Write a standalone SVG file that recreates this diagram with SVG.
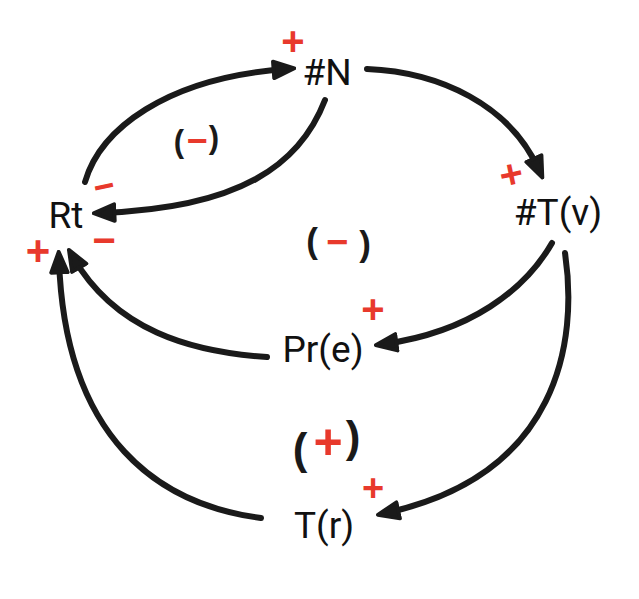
<svg xmlns="http://www.w3.org/2000/svg" width="639" height="599" viewBox="0 0 639 599">
<defs>
<style>
.node{font-family:Roboto,"Liberation Sans",sans-serif;font-size:37px;fill:#111;text-anchor:middle}
.edge{fill:none;stroke:#1a1a1a;stroke-width:6;stroke-linecap:round;marker-end:url(#arr)}
.sign{font-family:"Liberation Sans",Arial,sans-serif;font-weight:bold;fill:#e8392c;text-anchor:middle;dominant-baseline:central}
.par{font-family:"Liberation Sans",Arial,sans-serif;font-weight:bold;fill:#1a1a1a;text-anchor:middle;dominant-baseline:central}
</style>
<marker id="arr" viewBox="0 0 12 10" refX="7" refY="5" markerUnits="userSpaceOnUse" markerWidth="25" markerHeight="21" orient="auto">
<path d="M1,1 L11,5 L1,9 z" fill="#1a1a1a" stroke="#1a1a1a" stroke-width="1.8" stroke-linejoin="round"/>
</marker>
</defs>
<rect width="639" height="599" fill="#ffffff"/>
<g id="connectors">
<path class="edge" d="M85,182 C100,130 165,78 286,69"/>
<path class="edge" d="M325,100 C300,165 240,208 102,213"/>
<path class="edge" d="M367,69 C440,72 510,105 539,170"/>
<path class="edge" d="M552,243 C525,290 470,332 384,344"/>
<path class="edge" d="M565,253 C578,340 560,475 386,513"/>
<path class="edge" d="M267,357 C190,352 115,330 73,257"/>
<path class="edge" d="M261,518 C160,505 65,440 59,260"/>
</g>
<g id="node-N"><text class="node" x="327" y="85">#N</text></g>
<g id="node-Rt"><text class="node" x="66" y="228">Rt</text></g>
<g id="node-Tv"><text class="node" x="558" y="225">#T(v)</text></g>
<g id="node-Pre"><text class="node" x="323" y="362">Pr(e)</text></g>
<g id="node-Tr"><text class="node" x="324" y="538">T(r)</text></g>
<g id="signs">
<text class="sign" x="293" y="41" font-size="40">+</text>
<text class="sign" x="104" y="186" font-size="36" transform="rotate(-12 104 186)">−</text>
<text class="sign" x="104" y="240" font-size="40">−</text>
<text class="sign" x="38" y="250" font-size="42">+</text>
<text class="sign" x="511" y="174" font-size="40" transform="rotate(-12 511 174)">+</text>
<text class="sign" x="373" y="309" font-size="40">+</text>
<text class="sign" x="373" y="488" font-size="38">+</text>
</g>
<g id="loop-labels">
<text class="par" font-size="31"><tspan x="179" y="141">(</tspan><tspan class="sign" x="197" y="140" font-size="36">−</tspan><tspan x="214" y="137">)</tspan></text>
<text class="par" font-size="35"><tspan x="312" y="240">(</tspan><tspan class="sign" x="337" y="242" font-size="38">−</tspan><tspan x="365" y="243">)</tspan></text>
<text class="par" font-size="44"><tspan x="300" y="448">(</tspan><tspan class="sign" x="328" y="442" font-size="50">+</tspan><tspan x="353" y="436">)</tspan></text>
</g>
</svg>
